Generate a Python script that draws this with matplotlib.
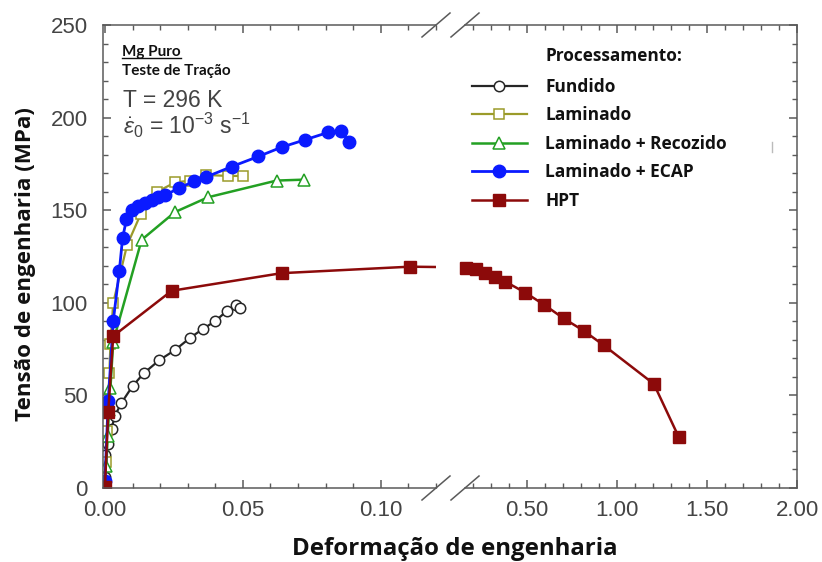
import numpy as np
import matplotlib.pyplot as plt
from matplotlib.ticker import MultipleLocator, FormatStrFormatter
from matplotlib.lines import Line2D

plt.rcParams['mathtext.fontset'] = 'custom'
plt.rcParams['mathtext.rm'] = 'Liberation Sans'
plt.rcParams['mathtext.it'] = 'Liberation Sans:italic'

# ---- Data: strain (-), stress (MPa) ----
fundido_x = [0.0, 0.0, 0.0012, 0.0024, 0.0036, 0.006, 0.010, 0.0141, 0.0197,
             0.0254, 0.0308, 0.0356, 0.0399, 0.0441, 0.0475, 0.049]
fundido_y = [6, 18, 24, 32, 39, 46, 55, 62, 69, 74.5, 81, 86, 90, 95.5, 99, 97]

laminado_x = [0.0, 0.0005, 0.0008, 0.0012, 0.0016, 0.002, 0.003, 0.008, 0.013,
              0.019, 0.0254, 0.031, 0.0368, 0.0447, 0.0499]
laminado_y = [0, 14, 31, 45, 62, 78, 100, 131, 148, 160, 165, 166, 169, 168.5, 168.5]

recozido_x = [0.0, 0.0005, 0.001, 0.0015, 0.002, 0.003, 0.0133, 0.0254, 0.0374,
              0.0622, 0.0721]
recozido_y = [0, 12, 28, 42, 54, 79, 134, 149, 157, 166, 166.5]

ecap_x = [0.0, 0.0012, 0.003, 0.0052, 0.0064, 0.0078, 0.0097, 0.012, 0.0145,
          0.0169, 0.0193, 0.0217, 0.0269, 0.0322, 0.0368, 0.0459, 0.0556,
          0.064, 0.0725, 0.0809, 0.0857, 0.0885]
ecap_y = [4, 47, 90, 117, 135, 145, 150, 152, 154, 155.5, 157, 158, 162,
          165.5, 168, 173.5, 179, 184, 188, 192, 192.5, 187]

hpt_x = [0.0, 0.0012, 0.003, 0.0242, 0.064, 0.1105,
         0.16, 0.216, 0.266, 0.322, 0.377, 0.489, 0.596, 0.702, 0.814, 0.925,
         1.204, 1.343]
hpt_y = [0.5, 41, 82, 106.5, 116, 119.5,
         118.6, 118.1, 116, 114.2, 111.5, 105.5, 98.8, 91.6, 84.9, 77.1,
         56.2, 27.4]

labels = ['Fundido', 'Laminado', 'Laminado + Recozido', 'Laminado + ECAP', 'HPT']

W, H = 822, 562
fig = plt.figure(figsize=(W / 100, H / 100), dpi=100)
ax1 = fig.add_axes([103 / W, 74 / H, 333 / W, 463 / H])
ax2 = fig.add_axes([465 / W, 74 / H, 332 / W, 463 / H])

spine_col = '#5a5a5a'
tick_col = '#444444'

series = [
    (fundido_x, fundido_y, dict(color='#262626', marker='o', ms=7.5, mfc='white',
                                mec='#262626', mew=1.1, lw=1.6)),
    (laminado_x, laminado_y, dict(color='#9b9b2a', marker='s', ms=7, mfc='white',
                                  mec='#9b9b2a', mew=1.1, lw=1.6)),
    (recozido_x, recozido_y, dict(color='#23a023', marker='^', ms=8, mfc='white',
                                  mec='#23a023', mew=1.1, lw=1.8)),
    (ecap_x, ecap_y, dict(color='#0a1aff', marker='o', ms=9, mfc='#0a1aff',
                          mec='#0a1aff', lw=2.0)),
    (hpt_x, hpt_y, dict(color='#8c0a0a', marker='s', ms=8, mfc='#8c0a0a',
                        mec='#8c0a0a', lw=1.8)),
]

handles = []
for (x, y, st), lab in zip(series, labels):
    h, = ax1.plot(x, y, label=lab, **st)
    handles.append(h)

# right panel only holds the HPT tail
hx = np.array(hpt_x)
hy = np.array(hpt_y)
m = hx > 0.12
ax2.plot(hx[m], hy[m], clip_on=False, **series[4][2])

ax1.set_xlim(-0.0007, 0.12)
ax2.set_xlim(0.154, 2.0)
for ax in (ax1, ax2):
    ax.set_ylim(0, 250)
    ax.yaxis.set_major_locator(MultipleLocator(50))
    ax.yaxis.set_minor_locator(MultipleLocator(10))
    for s in ax.spines.values():
        s.set_color(spine_col)
        s.set_linewidth(1.1)
    ax.tick_params(which='both', direction='in', top=True, color=spine_col,
                   labelsize=16, labelcolor=tick_col, pad=9)
    ax.tick_params(which='major', length=6, width=1.1)
    ax.tick_params(which='minor', length=3.5, width=1.0)

ax1.xaxis.set_major_locator(MultipleLocator(0.05))
ax1.xaxis.set_minor_locator(MultipleLocator(0.01))
ax1.xaxis.set_major_formatter(FormatStrFormatter('%.2f'))
ax1.spines['right'].set_visible(False)
ax1.tick_params(which='both', right=False)
ax1.tick_params(axis='y', pad=11)

ax2.xaxis.set_major_locator(MultipleLocator(0.5))
ax2.xaxis.set_minor_locator(MultipleLocator(0.1))
ax2.xaxis.set_major_formatter(FormatStrFormatter('%.2f'))
ax2.spines['left'].set_visible(False)
ax2.tick_params(which='both', left=False, right=True, labelleft=False)

for ax in (ax1, ax2):
    for t in ax.get_xticklabels() + ax.get_yticklabels():
        t.set_family('Liberation Sans')

# break marks
for ax, xc in ((ax1, 1.0), (ax2, 0.0)):
    w = ax.get_position().width * W
    dx = 14 / w
    dy = 12 / 463
    for yc in (0.0, 1.0):
        ax.plot([xc - dx, xc + dx], [yc - dy, yc + dy], transform=ax.transAxes,
                color=spine_col, lw=1.1, clip_on=False)

# axis labels
fig.text(455 / W, 1 - 549 / H, 'Deformação de engenharia', ha='center', va='center',
         family='Open Sans', weight='bold', fontsize=17.3, color='#111111')
fig.text(26 / W, 1 - 264 / H, 'Tensão de engenharia (MPa)', ha='center', va='center',
         rotation=90, family='Open Sans', weight='bold', fontsize=16.1, color='#111111')

# annotations in left panel
t_mg = ax1.text(0.057, 0.942, 'Mg Puro', transform=ax1.transAxes, family='Lato',
                weight='bold', fontsize=11, va='center', color='#111111')
ax1.text(0.057, 0.900, 'Teste de Tração', transform=ax1.transAxes, family='Lato',
         weight='bold', fontsize=11, va='center', color='#111111')
ax1.text(0.06, 0.838, 'T = 296 K', transform=ax1.transAxes, family='Liberation Sans',
         fontsize=16.5, va='center', color='#444444')
ax1.text(0.06, 0.782, r'$\dot{\varepsilon}_0$ = 10$^{-3}$ s$^{-1}$', transform=ax1.transAxes,
         family='Liberation Sans', fontsize=16.5, va='center', color='#444444')

# legend
fig.text(545 / W, 1 - 56 / H, 'Processamento:', family='Open Sans', weight='bold',
         fontsize=12.4, va='center', color='#111111')
leg = fig.legend(handles=handles, loc='upper left', bbox_to_anchor=(472 / W, 1 - 78 / H),
                 frameon=False, prop={'family': 'Open Sans', 'weight': 'bold', 'size': 12.5},
                 handlelength=3.16, handletextpad=1.05, labelspacing=0.6,
                 borderpad=0, borderaxespad=0)
for t in leg.get_texts():
    t.set_color('#111111')
fig.add_artist(Line2D([772 / W, 772 / W], [1 - 152 / H, 1 - 142 / H], color='#bbbbbb', lw=1))

# underline "Mg Puro"
fig.canvas.draw()
bb = t_mg.get_window_extent()
fig.add_artist(Line2D([bb.x0 / W, bb.x1 / W], [(bb.y0 + 1) / H, (bb.y0 + 1) / H],
                      color='#111111', lw=1))

fig.savefig('out.png', dpi=100)
plt.close()
